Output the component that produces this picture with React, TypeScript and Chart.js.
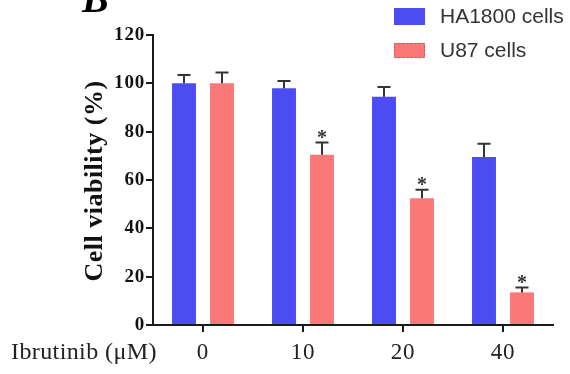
import { useEffect, useRef } from 'react';
import { Chart, registerables } from 'chart.js';

Chart.register(...registerables);

const categories = ['0', '10', '20', '40'];
const seriesLabels = ['HA1800 cells', 'U87 cells'];
const ha1800 = [100, 98, 94.5, 69.5];
const ha1800Err = [3.5, 3, 4, 5.5];
const u87 = [100, 70.5, 52.5, 13.5];
const u87Err = [4.5, 5, 3.5, 2];
const u87Star = [false, true, true, true];
const yMin = 0;
const yMax = 120;
const yStep = 20;
const xAxisLabel = 'Ibrutinib (μM)';
const yAxisLabel = 'Cell viability (%)';
const panelLabel = 'B';

const blue = '#4b4df2';
const red = '#fa7878';
const axisColor = '#1a1a1a';
const serif = '"Liberation Serif", "Times New Roman", serif';
const sans = '"Liberation Sans", Arial, sans-serif';

const errors = [ha1800Err, u87Err];
const stars = [ha1800.map(() => false), u87Star];

const overlay = {
  id: 'overlay',
  beforeDraw(chart: any) {
    (chart.ctx as any).letterSpacing = '0.8px';
  },
  afterDatasetsDraw(chart: any) {
    const ctx = chart.ctx;
    const yScale = chart.scales.y;
    ctx.save();
    chart.data.datasets.forEach((ds: any, i: number) => {
      const meta = chart.getDatasetMeta(i);
      meta.data.forEach((bar: any, j: number) => {
        const v = ds.data[j];
        const yTop = yScale.getPixelForValue(v);
        const yErr = yScale.getPixelForValue(v + errors[i][j]);
        ctx.strokeStyle = '#333';
        ctx.lineWidth = 2;
        ctx.beginPath();
        ctx.moveTo(bar.x, yTop);
        ctx.lineTo(bar.x, yErr);
        ctx.moveTo(bar.x - 6.5, yErr);
        ctx.lineTo(bar.x + 6.5, yErr);
        ctx.stroke();
        if (stars[i][j]) {
          ctx.letterSpacing = '0px';
          ctx.fillStyle = '#333';
          ctx.font = `bold 20px ${serif}`;
          ctx.textAlign = 'center';
          ctx.textBaseline = 'alphabetic';
          ctx.fillText('*', bar.x, yErr + 1.5);
        }
      });
    });
    ctx.restore();
  },
  afterDraw(chart: any) {
    const ctx = chart.ctx;
    ctx.save();
    // legend
    ctx.letterSpacing = '0px';
    const legendY = [[8, 17], [43, 15]];
    chart.data.datasets.forEach((ds: any, i: number) => {
      const [ry, rh] = legendY[i];
      ctx.fillStyle = ds.backgroundColor;
      ctx.fillRect(394, ry, 31, rh);
      if (i === 1) {
        ctx.setLineDash([2, 2]);
        ctx.strokeStyle = 'rgba(170,60,60,0.6)';
        ctx.lineWidth = 1;
        ctx.strokeRect(394.5, ry + 0.5, 30, rh - 1);
        ctx.setLineDash([]);
      }
      ctx.fillStyle = '#333';
      ctx.font = `21px ${sans}`;
      ctx.textAlign = 'left';
      ctx.textBaseline = 'middle';
      ctx.fillText(ds.label, 440, ry + rh / 2 + 0.5);
    });
    // y axis title
    ctx.save();
    ctx.letterSpacing = '0.5px';
    ctx.translate(95, 181);
    ctx.rotate(-Math.PI / 2);
    ctx.fillStyle = '#111';
    ctx.font = `bold 26px ${serif}`;
    ctx.textAlign = 'center';
    ctx.textBaseline = 'middle';
    ctx.fillText(yAxisLabel, 0, 0);
    ctx.restore();
    // x axis title
    ctx.letterSpacing = '0.4px';
    ctx.fillStyle = '#222';
    ctx.font = `24px ${serif}`;
    ctx.textAlign = 'left';
    ctx.textBaseline = 'middle';
    ctx.fillText(xAxisLabel, 11, 352.5);
    // panel label (cropped at the top edge)
    ctx.letterSpacing = '0px';
    ctx.fillStyle = '#000';
    ctx.font = `italic bold 40px ${serif}`;
    ctx.textBaseline = 'alphabetic';
    ctx.fillText(panelLabel, 82, 12);
    ctx.restore();
  },
};

export default function App() {
  const canvasRef = useRef<HTMLCanvasElement | null>(null);

  useEffect(() => {
    document.body.style.margin = '0';
    const canvas = canvasRef.current;
    if (!canvas) return;
    const chart = new Chart(canvas, {
      type: 'bar',
      data: {
        labels: categories,
        datasets: [
          {
            label: seriesLabels[0],
            data: ha1800,
            backgroundColor: blue,
            categoryPercentage: 0.76,
            barPercentage: 0.63,
          },
          {
            label: seriesLabels[1],
            data: u87,
            backgroundColor: red,
            categoryPercentage: 0.76,
            barPercentage: 0.63,
          },
        ],
      },
      options: {
        responsive: false,
        animation: false,
        events: [],
        layout: { padding: { top: 35, right: 17, bottom: 0, left: 0 } },
        plugins: {
          legend: { display: false },
          tooltip: { enabled: false },
        },
        scales: {
          x: {
            afterFit: (s: any) => {
              s.height = 49;
            },
            grid: {
              offset: false,
              drawOnChartArea: false,
              drawTicks: true,
              tickLength: 7,
              lineWidth: 2,
              color: axisColor,
            },
            border: { display: true, color: axisColor, width: 2 },
            ticks: {
              color: '#222',
              padding: 7,
              font: { family: serif, size: 23 },
              maxRotation: 0,
            },
          },
          y: {
            min: yMin,
            max: yMax,
            afterFit: (s: any) => {
              s.width = 153;
            },
            grid: {
              drawOnChartArea: false,
              drawTicks: true,
              tickLength: 7,
              lineWidth: 2,
              color: axisColor,
            },
            border: { display: true, color: axisColor, width: 2 },
            ticks: {
              stepSize: yStep,
              color: '#111',
              padding: 1,
              font: { family: serif, size: 19, weight: 'bold' },
            },
          },
        },
      },
      plugins: [overlay],
    });
    return () => chart.destroy();
  }, []);

  return (
    <div style={{ width: 570, height: 374, background: '#fff' }}>
      <canvas ref={canvasRef} width={570} height={374} />
    </div>
  );
}
